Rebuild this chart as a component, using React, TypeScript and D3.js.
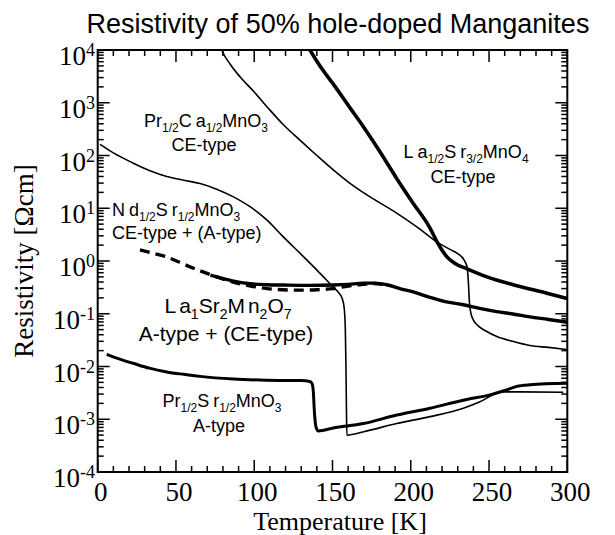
import React from 'react';
import * as d3 from 'd3';

const W = 615, H = 535;
const PL = 97.7, PR = 567.3, PT = 50, PB = 472;

const xTickValues = [0, 50, 100, 150, 200, 250, 300];
const yTickExponents = [4, 3, 2, 1, 0, -1, -2, -3, -4];

// [Temperature K, resistivity Ohm cm]
const prCaMnO3: [number, number][] = [
  [78, 1.25e4], [79.2, 1.0e4], [85, 5.2e3], [90.9, 3.1e3], [100, 1.6e3], [108, 850], [118, 400],
  [129.2, 195], [140, 100], [150.3, 54], [161, 30], [170, 19.5], [191, 8.1], [205, 4.2],
  [216.6, 2.3], [225, 1.66], [230, 1.38], [234, 1.05], [236, 0.76], [236.8, 0.4], [237.5, 0.16],
  [238.5, 0.1], [240, 0.076], [242, 0.063], [248, 0.047], [255, 0.037], [265, 0.03],
  [276, 0.025], [288, 0.023], [300, 0.021],
];
const laSr32MnO4: [number, number][] = [
  [134, 1.2e4], [135.6, 1.0e4], [143, 4.5e3], [150.3, 2.3e3], [161.2, 800], [169.5, 360],
  [180.4, 117], [191.2, 36], [201.4, 12.6], [212.3, 4.2], [216.8, 2.3], [220, 1.6], [223.1, 1.2],
  [228, 0.91], [236, 0.71], [248.7, 0.5], [265.3, 0.355], [287, 0.245], [300, 0.195],
];
const ndSrMnO3: [number, number][] = [
  [1.5, 162], [10, 112], [22.6, 72], [33, 52], [44.1, 40], [55, 34], [65.4, 29.5], [76, 23],
  [86.4, 16.6], [97.3, 10.7], [108, 6.0], [118.4, 2.9], [129.2, 1.41], [139.9, 0.68],
  [150.5, 0.32], [154, 0.25], [156.3, 0.19], [157.5, 0.126], [158.2, 0.05], [158.6, 0.01],
  [158.9, 0.0016], [159.2, 5.0e-4], [170, 5.8e-4], [191, 8.3e-4], [212.3, 1.12e-3],
  [233.6, 1.62e-3], [244.2, 2.14e-3], [254.9, 3.1e-3], [259.1, 3.3e-3], [270, 3.3e-3],
  [297.5, 3.25e-3],
];
const prSrMnO3: [number, number][] = [
  [5.75, 0.017], [15, 0.0135], [22.6, 0.0115], [33, 0.0093], [44.1, 0.0079], [55, 0.0071],
  [65.4, 0.0065], [86.6, 0.0058], [108, 0.0055], [130, 0.0054], [135.6, 0.0052], [137, 0.0047],
  [137.8, 0.0032], [138.3, 0.0016], [138.8, 0.001], [139.5, 7.1e-4], [140.9, 6.0e-4],
  [150.5, 6.8e-4], [169.7, 8.3e-4], [191, 1.2e-3], [212.3, 1.62e-3], [233.6, 2.3e-3],
  [250.6, 2.9e-3], [260, 3.5e-3], [267.7, 4.2e-3], [276.2, 4.5e-3], [300, 4.8e-3],
];
const la327Dashed: [number, number][] = [
  [27, 1.62], [35, 1.41], [44.1, 1.19], [55, 0.87], [65.4, 0.65], [76, 0.5], [86.6, 0.4],
  [97, 0.34], [108, 0.3], [118, 0.285], [129.2, 0.28], [140, 0.285], [150.3, 0.3],
  [161.2, 0.34], [169.5, 0.36], [176, 0.375], [184, 0.355],
];
const la327Solid: [number, number][] = [
  [72, 0.54], [76, 0.5], [86, 0.42], [97.3, 0.37], [108, 0.355], [118.6, 0.35], [135, 0.345],
  [150.3, 0.35], [160, 0.36], [169.7, 0.38], [177, 0.38], [184.6, 0.355], [193, 0.3],
  [201.6, 0.26], [212.3, 0.204], [222, 0.17], [233.6, 0.148], [244, 0.126], [254.9, 0.11],
  [266, 0.098], [276.2, 0.087], [288, 0.078], [300, 0.069],
];

type Seg = { t: string; s?: 'sub'; dx?: number };
const labelPrCa: Seg[] = [{ t: 'Pr' }, { t: '1/2', s: 'sub' }, { t: 'C' }, { t: 'a', dx: 4 }, { t: '1/2', s: 'sub' }, { t: 'MnO' }, { t: '3', s: 'sub' }];
const labelNdSr: Seg[] = [{ t: 'N' }, { t: 'd', dx: 4 }, { t: '1/2', s: 'sub' }, { t: 'S' }, { t: 'r', dx: 4 }, { t: '1/2', s: 'sub' }, { t: 'MnO' }, { t: '3', s: 'sub' }];
const labelLaSr: Seg[] = [{ t: 'L' }, { t: 'a', dx: 4 }, { t: '1/2', s: 'sub' }, { t: 'S' }, { t: 'r', dx: 4 }, { t: '3/2', s: 'sub' }, { t: 'MnO' }, { t: '4', s: 'sub' }];
const labelLa327: Seg[] = [{ t: 'L' }, { t: 'a', dx: 3 }, { t: '1', s: 'sub' }, { t: 'Sr' }, { t: '2', s: 'sub' }, { t: 'M' }, { t: 'n', dx: 3 }, { t: '2', s: 'sub' }, { t: 'O' }, { t: '7', s: 'sub' }];
const labelPrSr: Seg[] = [{ t: 'Pr' }, { t: '1/2', s: 'sub' }, { t: 'S' }, { t: 'r', dx: 4 }, { t: '1/2', s: 'sub' }, { t: 'MnO' }, { t: '3', s: 'sub' }];

const SANS = '"Liberation Sans", Arial, Helvetica, sans-serif';
const SERIF = '"Liberation Serif", "Times New Roman", Times, serif';

function Chem({ x, y, segs, size, anchor }: { x: number; y: number; segs: Seg[]; size: number; anchor: string }) {
  const subSize = Math.round(size * 0.65);
  const shift = size * 0.27;
  let cur = 0;
  return (
    <text x={x} y={y} fontFamily={SANS} fontSize={size} textAnchor={anchor} fill="#000">
      {segs.map((s, i) => {
        const target = s.s === 'sub' ? shift : 0;
        const dy = target - cur;
        cur = target;
        return (
          <tspan key={i} dy={dy} dx={s.dx || 0} fontSize={s.s === 'sub' ? subSize : size}>{s.t}</tspan>
        );
      })}
    </text>
  );
}

export default function App() {
  const x = d3.scaleLinear().domain([0, 300]).range([PL, PR]);
  const y = d3.scaleLog().domain([1e-4, 1e4]).range([PB, PT]);
  const line = d3.line<[number, number]>().x(d => x(d[0])).y(d => y(d[1])).curve(d3.curveMonotoneX);
  const yMinor = y.ticks().filter(v => Math.abs(Math.log10(v) - Math.round(Math.log10(v))) > 1e-6);
  const xMinor = d3.range(0, 301, 10).filter(v => v % 50 !== 0);
  const MAJ = 12, MIN = 6;

  return (
    <svg width={W} height={H} style={{ position: 'absolute', left: 0, top: 0, background: '#fff' }}>
      <defs>
        <clipPath id="plot"><rect x={PL} y={PT} width={PR - PL} height={PB - PT} /></clipPath>
      </defs>
      <rect x={0} y={0} width={W} height={H} fill="#fff" />
      <text x={338} y={33} fontFamily={SANS} fontSize={27} textAnchor="middle">Resistivity of 50% hole-doped Manganites</text>

      <g clipPath="url(#plot)" fill="none" stroke="#000" strokeLinejoin="round">
        <path d={line(prCaMnO3) || ''} strokeWidth={1.6} />
        <path d={line(ndSrMnO3) || ''} strokeWidth={1.6} />
        <path d={line(laSr32MnO4) || ''} strokeWidth={3.6} />
        <path d={line(la327Dashed) || ''} strokeWidth={3.4} strokeDasharray="10,6" />
        <path d={line(la327Solid) || ''} strokeWidth={3.4} />
        <path d={line(prSrMnO3) || ''} strokeWidth={3.0} />
      </g>

      <g stroke="#000" strokeWidth={1.5}>
        {xTickValues.map(v => (
          <g key={'xM' + v}>
            <line x1={x(v)} x2={x(v)} y1={PB} y2={PB - MAJ} />
            <line x1={x(v)} x2={x(v)} y1={PT} y2={PT + MAJ} />
          </g>
        ))}
        {xMinor.map(v => (
          <g key={'xm' + v}>
            <line x1={x(v)} x2={x(v)} y1={PB} y2={PB - MIN} />
            <line x1={x(v)} x2={x(v)} y1={PT} y2={PT + MIN} />
          </g>
        ))}
        {yTickExponents.map(e => (
          <g key={'yM' + e}>
            <line x1={PL} x2={PL + MAJ} y1={y(Math.pow(10, e))} y2={y(Math.pow(10, e))} />
            <line x1={PR} x2={PR - MAJ} y1={y(Math.pow(10, e))} y2={y(Math.pow(10, e))} />
          </g>
        ))}
        {yMinor.map((v, i) => (
          <g key={'ym' + i}>
            <line x1={PL} x2={PL + MIN} y1={y(v)} y2={y(v)} />
            <line x1={PR} x2={PR - MIN} y1={y(v)} y2={y(v)} />
          </g>
        ))}
      </g>
      <rect x={PL} y={PT} width={PR - PL} height={PB - PT} fill="none" stroke="#000" strokeWidth={2} />

      {xTickValues.map(v => (
        <text key={'xl' + v} x={x(v) + 3} y={501} fontFamily={SERIF} fontSize={27} textAnchor="middle">{v}</text>
      ))}
      {yTickExponents.map(e => (
        <text key={'yl' + e} x={95} y={y(Math.pow(10, e)) + 15} fontFamily={SERIF} fontSize={27} textAnchor="end">
          10<tspan fontSize={18} dy={-9}>{e < 0 ? '-' + Math.abs(e) : String(e)}</tspan>
        </text>
      ))}
      <text x={340} y={530} fontFamily={SERIF} fontSize={26} textAnchor="middle">Temperature [K]</text>
      <text transform={`translate(33,${(PT + PB) / 2}) rotate(-90)`} fontFamily={SERIF} fontSize={27} textAnchor="middle">Resistivity [Ωcm]</text>

      <Chem x={206} y={127} segs={labelPrCa} size={18} anchor="middle" />
      <text x={204} y={151} fontFamily={SANS} fontSize={18} textAnchor="middle">CE-type</text>

      <Chem x={112} y={216} segs={labelNdSr} size={18} anchor="start" />
      <text x={112} y={239} fontFamily={SANS} fontSize={18} textAnchor="start">CE-type + (A-type)</text>

      <Chem x={466} y={158} segs={labelLaSr} size={18} anchor="middle" />
      <text x={463} y={183} fontFamily={SANS} fontSize={18} textAnchor="middle">CE-type</text>

      <Chem x={228} y={313} segs={labelLa327} size={21} anchor="middle" />
      <text x={226} y={341} fontFamily={SANS} fontSize={21} textAnchor="middle">A-type + (CE-type)</text>

      <Chem x={222} y={407} segs={labelPrSr} size={18} anchor="middle" />
      <text x={219} y={432} fontFamily={SANS} fontSize={18} textAnchor="middle">A-type</text>
    </svg>
  );
}
